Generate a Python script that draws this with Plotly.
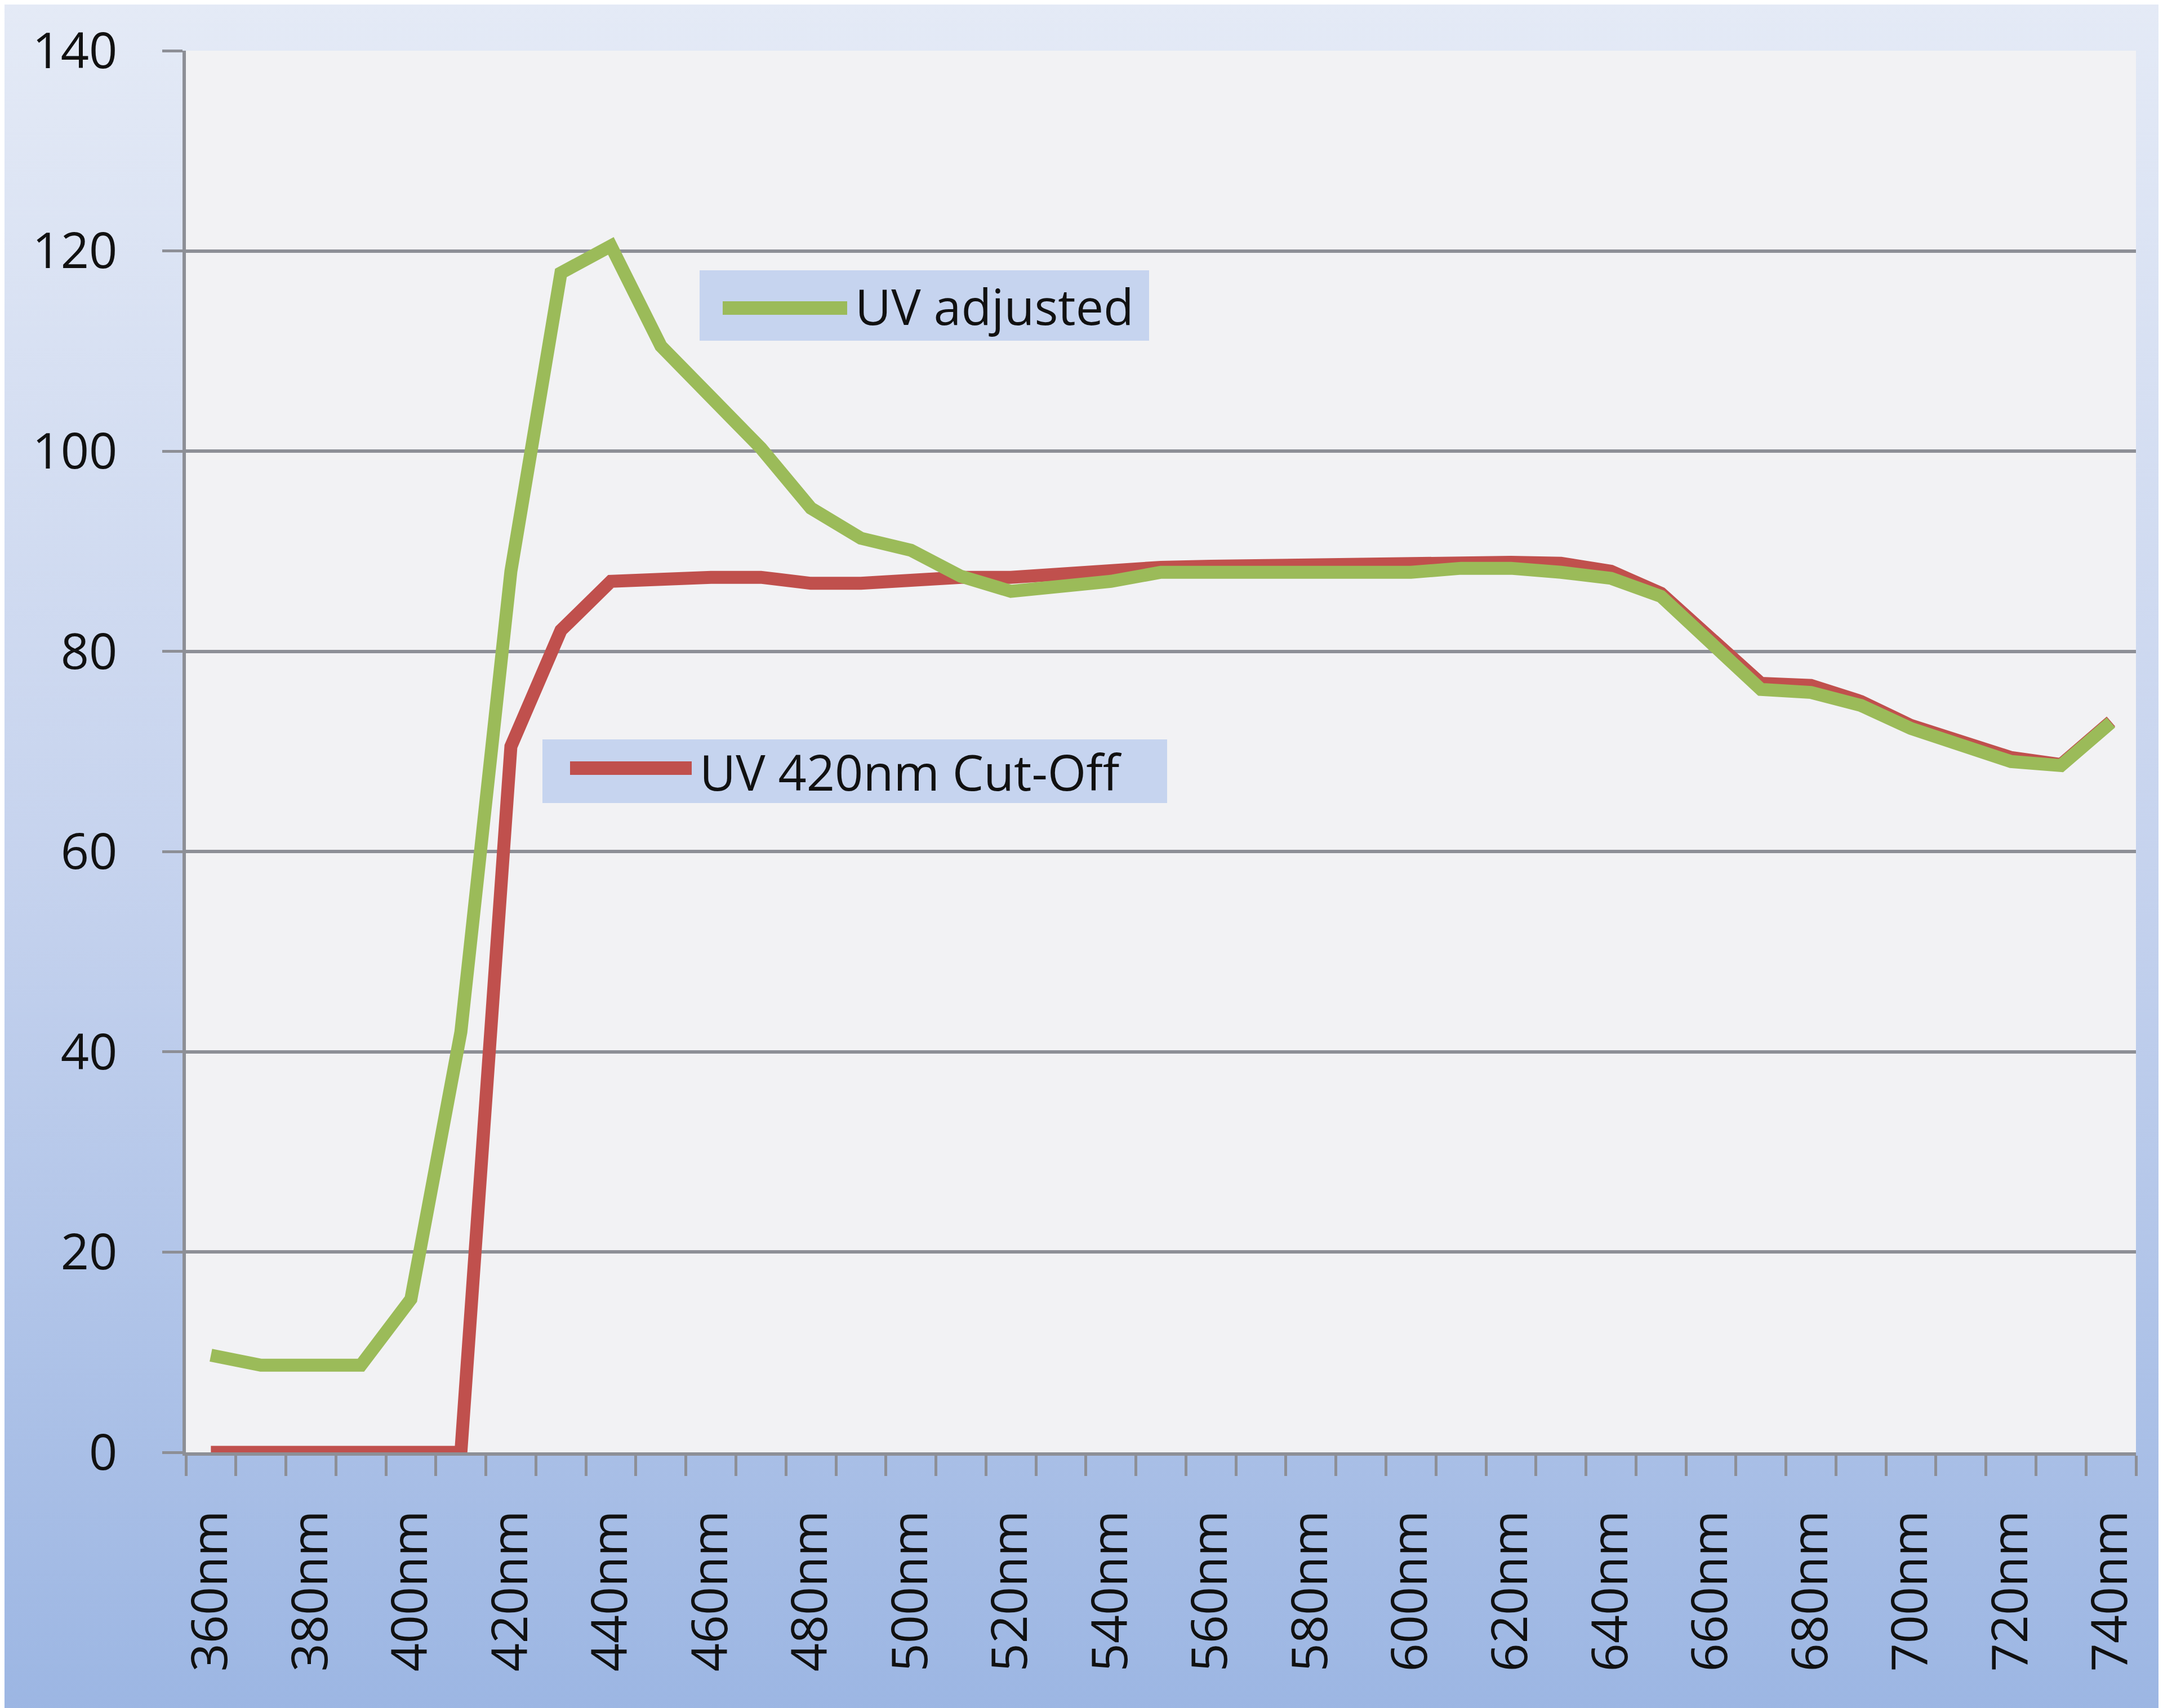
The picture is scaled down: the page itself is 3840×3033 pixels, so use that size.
import base64
import plotly.graph_objects as go

# wavelength categories (every 10nm), labels shown every 20nm
wavelengths = ['360nm', '370nm', '380nm', '390nm', '400nm', '410nm', '420nm', '430nm',
               '440nm', '450nm', '460nm', '470nm', '480nm', '490nm', '500nm', '510nm',
               '520nm', '530nm', '540nm', '550nm', '560nm', '570nm', '580nm', '590nm',
               '600nm', '610nm', '620nm', '630nm', '640nm', '650nm', '660nm', '670nm',
               '680nm', '690nm', '700nm', '710nm', '720nm', '730nm', '740nm']

uv_cutoff = [0, 0, 0, 0, 0, 0, 70.5, 82.1, 87.0, 87.3, 87.4, 87.4, 86.8, 86.8, 87.2, 87.4,
             87.4, 87.8, 88.0, 88.4, 88.5, 88.6, 88.8, 88.8, 88.8, 88.9, 88.9, 88.8, 88.0,
             85.8, 81.5, 76.8, 76.6, 75.0, 72.6, 71.0, 69.4, 68.7, 73.0]

uv_adjusted = [9.7, 8.7, 8.7, 8.7, 15.3, 42.0, 88.0, 117.8, 120.5, 110.5, 105.4, 100.3,
               94.3, 91.3, 90.1, 87.5, 86.0, 86.5, 87.0, 87.9, 87.9, 87.9, 87.9, 87.9,
               87.9, 88.3, 88.3, 87.9, 87.3, 85.5, 80.8, 76.2, 75.9, 74.6, 72.3, 70.7,
               69.0, 68.6, 72.9]

tick_labels = [w if i % 2 == 0 else '' for i, w in enumerate(wavelengths)]

GREEN = '#9BBB59'
RED = '#C0504D'
GRID = '#8D8F96'
FONT = dict(family='Open Sans', size=88, color='#111111')

W, H = 3840, 3033
PL, PR, PT, PB = 322, 3784, 82, 2571


def px_x(p):
    return (p - PL) / (PR - PL)


def px_y(p):
    return (PB - p) / (PB - PT)


fig = go.Figure()
fig.add_trace(go.Scatter(x=wavelengths, y=uv_cutoff, mode='lines', name='UV 420nm Cut-Off',
                         line=dict(color=RED, width=23), showlegend=False))
fig.add_trace(go.Scatter(x=wavelengths, y=uv_adjusted, mode='lines', name='UV adjusted',
                         line=dict(color=GREEN, width=23), showlegend=False))

# gradient page background
svg = ('<svg xmlns="http://www.w3.org/2000/svg" width="100" height="100" preserveAspectRatio="none">'
       '<defs><linearGradient id="g" x1="0" y1="0" x2="0" y2="1">'
       '<stop offset="0" stop-color="#E4EAF6"/><stop offset="0.5" stop-color="#C6D3EE"/>'
       '<stop offset="1" stop-color="#9CB6E3"/></linearGradient></defs>'
       '<rect width="100" height="100" fill="url(#g)"/></svg>')
bg_src = 'data:image/svg+xml;base64,' + base64.b64encode(svg.encode()).decode()
fig.add_layout_image(dict(source=bg_src, xref='paper', yref='paper',
                          x=px_x(0), y=px_y(0), sizex=px_x(W) - px_x(0), sizey=px_y(0) - px_y(H),
                          xanchor='left', yanchor='top', sizing='stretch', layer='below'))

shapes = [dict(type='rect', xref='paper', yref='paper', x0=0, x1=1, y0=0, y1=1,
               fillcolor='#F2F2F4', line=dict(width=0), layer='below')]

# legend boxes placed inside the plot, as in the original
legend_items = [
    dict(name='UV adjusted', color=GREEN, box=(1234, 2032, 472, 597), line=(1275, 1496, 539), text_x=1508),
    dict(name='UV 420nm Cut-Off', color=RED, box=(955, 2064, 1305, 1418), line=(1004, 1220, 1356), text_x=1232),
]
annotations = []
for item in legend_items:
    bx0, bx1, by0, by1 = item['box']
    lx0, lx1, ly = item['line']
    shapes.append(dict(type='rect', xref='paper', yref='paper', x0=px_x(bx0), x1=px_x(bx1),
                       y0=px_y(by1), y1=px_y(by0), fillcolor='#C6D4EF', line=dict(width=0), layer='above'))
    shapes.append(dict(type='line', xref='paper', yref='paper', x0=px_x(lx0), x1=px_x(lx1),
                       y0=px_y(ly), y1=px_y(ly), line=dict(color=item['color'], width=24), layer='above'))
    annotations.append(dict(text=item['name'], xref='paper', yref='paper', x=px_x(item['text_x']),
                            y=px_y((by0 + by1) / 2), xanchor='left', yanchor='middle',
                            showarrow=False, font=FONT))

fig.update_layout(
    width=W, height=H, autosize=False,
    margin=dict(l=PL, r=W - PR, t=PT, b=H - PB),
    paper_bgcolor='#C6D3EE', plot_bgcolor='#F2F2F4',
    font=FONT, shapes=shapes, annotations=annotations,
    xaxis=dict(type='category', categoryorder='array', categoryarray=wavelengths,
               range=[-0.5, len(wavelengths) - 0.5],
               tickmode='array', tickvals=wavelengths, ticktext=tick_labels,
               tickangle=-90, ticks='outside', tickson='boundaries', ticklen=36, tickwidth=5,
               tickcolor=GRID, showline=True, linecolor=GRID, linewidth=6, showgrid=False,
               zeroline=False, tickfont=FONT, ticklabelstandoff=62),
    yaxis=dict(range=[0, 140], tick0=0, dtick=20, showgrid=True, gridcolor=GRID, gridwidth=6,
               zeroline=False, showline=True, linecolor=GRID, linewidth=6,
               ticks='outside', ticklen=36, tickwidth=5, tickcolor=GRID,
               tickfont=FONT, ticklabelstandoff=62),
)

fig.write_html('out.html')
